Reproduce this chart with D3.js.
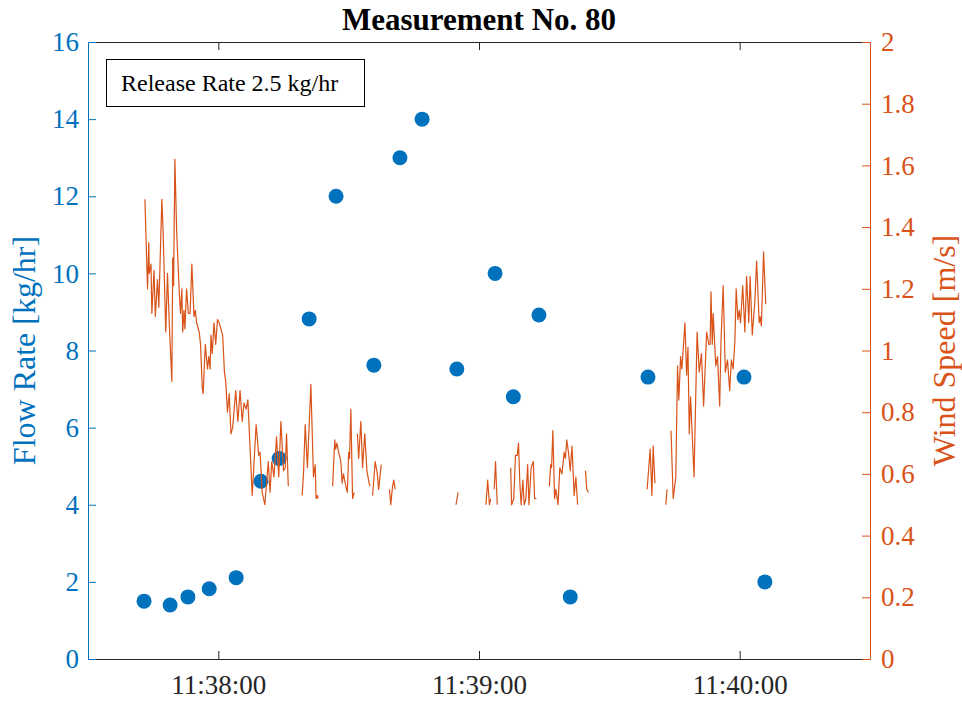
<!DOCTYPE html>
<html><head><meta charset="utf-8">
<script src="https://cdn.jsdelivr.net/npm/d3@7"></script>
<style>body{margin:0;background:#fff}svg{display:block}text{font-family:"Liberation Serif","Times New Roman",serif}</style>
</head><body><div id="chart"></div>
<script>
const titleText = "Measurement No. 80";
const annotationText = "Release Rate 2.5 kg/hr";
const startTime = "11:37:30";
const endTime = "11:40:30";
const xTickTimes = ["11:38:00", "11:39:00", "11:40:00"];
const leftTicks = [0, 2, 4, 6, 8, 10, 12, 14, 16];
const rightTicks = [0, 0.2, 0.4, 0.6, 0.8, 1, 1.2, 1.4, 1.6, 1.8, 2];
const leftLabel = "Flow Rate [kg/hr]";
const rightLabel = "Wind Speed [m/s]";

// flow rate measurements: seconds after start time, kg/hr
const flowSec = [12.9, 18.9, 23.0, 27.9, 34.1, 39.8, 44.0, 50.9, 57.1, 65.8, 71.8, 76.9, 84.9, 93.7, 97.9, 103.8, 111.0, 128.9, 151.0, 155.8];
const flowRate = [1.50, 1.40, 1.61, 1.82, 2.11, 4.61, 5.20, 8.82, 12.0, 7.62, 13.0, 14.0, 7.52, 10.0, 6.80, 8.92, 1.61, 7.31, 7.31, 2.0];

// wind speed: seconds after start time, m/s (null = missing)
const windSec = [
13.1,13.7,14.0,14.1,14.5,14.7,15.2,15.5,16.0,16.3,17.0,17.3,17.9,18.3,18.7,19.3,19.5,19.7,20.0,20.4,21.0,21.3,21.6,21.8,22.1,22.3,22.7,23.1,23.5,23.9,24.4,24.7,25.0,25.6,25.9,26.3,26.5,27.0,27.5,27.8,28.1,28.3,28.6,29.0,29.4,29.8,30.2,31.0,31.4,31.7,
32.1,32.5,32.9,33.3,34.0,34.5,35.0,35.5,35.9,36.4,36.8,37.8,38.7,39.3,39.6,40.1,40.7,41.5,41.9,42.3,42.8,43.4,43.9,44.4,45.0,45.4,45.7,46.1,null,
49.3,49.6,50.0,50.5,51.3,51.9,52.3,52.5,52.8,53.0,null,
56.3,56.8,57.0,57.3,57.7,58.2,58.5,58.8,59.2,59.7,60.0,60.2,60.5,60.9,61.3,null,
62.0,62.3,62.8,63.2,63.7,64.2,64.7,64.9,null,
65.5,66.1,66.6,66.9,67.5,null,
69.4,69.7,70.1,70.4,70.7,null,
84.7,85.2,null,
91.6,92.0,92.4,92.7,null,
93.5,93.8,94.2,null,
97.3,97.5,98.0,98.4,98.8,99.1,99.4,99.7,100.1,100.4,100.8,101.2,101.5,102.0,102.5,102.8,103.2,null,
106.2,106.5,106.7,107.0,107.4,107.7,108.2,108.6,109.1,109.6,109.9,110.2,110.6,111.0,111.4,111.9,112.3,112.7,null,
114.5,114.8,115.2,null,
128.7,129.4,129.8,130.1,130.5,null,
133.0,133.3,null,
134.2,134.7,135.3,135.7,136.0,136.4,136.7,137.4,137.8,138.1,138.4,138.7,139.5,140.2,140.7,141.2,141.7,142.4,142.9,143.2,143.4,143.7,143.9,144.5,144.9,145.4,145.7,146.2,146.7,147.2,147.7,148.1,148.5,148.9,149.2,149.6,149.9,150.2,150.7,151.2,151.6,152.1,152.4,152.9,153.5,153.9,154.5,154.7,155.0,155.5,156.0
];
const windSpeed = [
1.49,1.20,1.35,1.25,1.28,1.12,1.26,1.11,1.23,1.14,1.49,1.38,1.06,1.25,1.09,0.90,1.30,1.21,1.62,1.39,1.19,1.12,1.20,1.06,1.13,1.07,1.20,1.12,1.12,1.28,1.11,1.13,1.09,1.06,1.02,0.88,0.86,1.02,0.94,0.98,0.94,1.05,0.99,1.09,1.02,1.10,1.09,1.05,0.93,0.90,
0.80,0.86,0.73,0.75,0.87,0.77,0.87,0.77,0.83,0.81,0.84,0.53,0.76,0.66,0.67,0.54,0.50,0.64,0.54,0.64,0.59,0.72,0.59,0.77,0.61,0.62,0.73,0.56,null,
0.53,0.60,0.76,0.62,0.89,0.59,0.63,0.52,0.53,0.52,null,
0.56,0.71,0.68,0.70,0.67,0.64,0.57,0.60,0.57,0.54,0.67,0.65,0.81,0.52,0.54,null,
0.73,0.65,0.77,0.62,0.73,0.61,0.57,0.56,null,
0.53,0.64,0.60,0.55,0.63,null,
0.55,0.50,0.56,0.58,0.55,null,
0.50,0.54,null,
0.50,0.58,0.50,0.52,null,
0.55,0.64,0.50,null,
0.62,0.50,0.52,0.66,0.66,0.70,0.57,0.50,0.58,0.50,0.52,0.63,0.50,0.62,0.64,0.52,0.52,null,
0.56,0.63,0.62,0.74,0.52,0.55,0.50,0.62,0.60,0.67,0.65,0.71,0.67,0.61,0.69,0.53,0.59,0.50,null,
0.61,0.55,0.54,null,
0.55,0.68,0.53,0.69,0.57,null,
0.50,0.55,null,
0.74,0.52,0.59,0.95,0.84,0.98,0.94,1.09,0.92,1.01,0.73,0.85,0.59,1.06,0.93,0.99,0.82,1.06,1.02,1.02,1.19,1.02,1.12,0.95,0.98,0.82,1.03,1.21,0.93,0.97,0.87,0.97,0.94,1.03,1.20,1.10,1.13,1.09,1.21,1.06,1.24,1.09,1.24,1.05,1.16,1.29,1.09,1.11,1.08,1.32,1.15
];

const W = 962, H = 703;
const M = {left: 88, right: 870, top: 42, bottom: 659};
const blue = "#0072BD", orange = "#D95319", dark = "#262626";
const serif = "'Liberation Serif', 'Times New Roman', serif";
const parse = d3.timeParse("%H:%M:%S");
const t0 = parse(startTime), t1 = parse(endTime);
const addSec = s => new Date(t0.getTime() + s * 1000);

const svg = d3.select("#chart").append("svg").attr("width", W).attr("height", H)
  .attr("font-family", serif);

const x = d3.scaleTime().domain([t0, t1]).range([M.left, M.right]);
const yL = d3.scaleLinear().domain([0, 16]).range([M.bottom, M.top]);
const yR = d3.scaleLinear().domain([0, 2]).range([M.bottom, M.top]);

// data
const flow = flowSec.map((s, i) => ({t: addSec(s), v: flowRate[i]}));
const wind = windSec.map((s, i) => ({t: s == null ? null : addSec(s), v: windSpeed[i]}));

svg.append("g").selectAll("circle").data(flow).join("circle")
  .attr("cx", d => x(d.t)).attr("cy", d => yL(d.v)).attr("r", 7.5).attr("fill", blue);

const line = d3.line().defined(d => d.v != null && d.t != null).x(d => x(d.t)).y(d => yR(d.v));
svg.append("path").datum(wind).attr("d", line).attr("fill", "none")
  .attr("stroke", orange).attr("stroke-width", 1.2).attr("stroke-linejoin", "round");

// axes
const tickLen = 8;
const fs = 27;
const xTicks = xTickTimes.map(parse);
const xFmt = d3.timeFormat("%H:%M:%S");

function styleAxis(g, col, textCol) {
  g.attr("font-family", serif).attr("font-size", fs);
  g.select(".domain").attr("stroke", col);
  g.selectAll(".tick line").attr("stroke", col);
  g.selectAll(".tick text").attr("fill", textCol).attr("font-family", serif).attr("font-size", fs);
}

// bottom axis
const gB = svg.append("g").attr("transform", `translate(0,${M.bottom})`)
  .call(d3.axisBottom(x).tickValues(xTicks).tickFormat(xFmt).tickSizeInner(-tickLen).tickSizeOuter(0).tickPadding(16));
styleAxis(gB, dark, dark);

// top axis (box)
const gT = svg.append("g").attr("transform", `translate(0,${M.top})`)
  .call(d3.axisTop(x).tickValues(xTicks).tickFormat("").tickSizeInner(-tickLen).tickSizeOuter(0));
styleAxis(gT, dark, dark);

// left axis
const gL = svg.append("g").attr("transform", `translate(${M.left},0)`)
  .call(d3.axisLeft(yL).tickValues(leftTicks).tickFormat(d3.format("d")).tickSizeInner(-tickLen).tickSizeOuter(0).tickPadding(9));
styleAxis(gL, blue, blue);

// right axis
const gR = svg.append("g").attr("transform", `translate(${M.right},0)`)
  .call(d3.axisRight(yR).tickValues(rightTicks).tickFormat(d => String(+d.toFixed(1))).tickSizeInner(-tickLen).tickSizeOuter(0).tickPadding(11));
styleAxis(gR, orange, orange);

// axis labels
const midY = (M.top + M.bottom) / 2;
svg.append("text").attr("transform", `translate(35,${midY}) rotate(-90)`)
  .attr("text-anchor", "middle").attr("fill", blue).attr("font-size", 32).text(leftLabel);
svg.append("text").attr("transform", `translate(955,${midY}) rotate(-90)`)
  .attr("text-anchor", "middle").attr("fill", orange).attr("font-size", 32).text(rightLabel);

// title
svg.append("text").attr("x", (M.left + M.right) / 2).attr("y", 30)
  .attr("text-anchor", "middle").attr("fill", "#000").attr("font-size", 31).attr("font-weight", "bold").text(titleText);

// annotation box
svg.append("rect").attr("x", 106.5).attr("y", 59.5).attr("width", 258).attr("height", 47)
  .attr("fill", "#fff").attr("stroke", "#000").attr("stroke-width", 1);
svg.append("text").attr("x", 121).attr("y", 91).attr("fill", "#000").attr("font-size", 24).text(annotationText);
</script></body></html>
